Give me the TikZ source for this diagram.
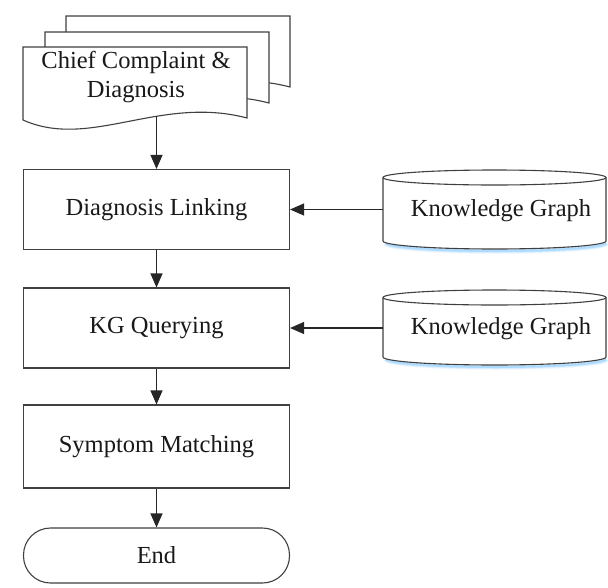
\documentclass[tikz,border=0pt]{standalone}
\usepackage{fontspec}
\setmainfont{Liberation Serif}
\newfontfamily\diagfont{Liberation Serif}
\usetikzlibrary{arrows.meta}
\begin{document}
\begin{tikzpicture}[x=1pt,y=-1pt,
  line width=1.1pt,
  lbl/.style={font=\diagfont\fontsize{24.5}{29}\selectfont, text=black!90},
  proc/.style={draw=black!75, fill=white, minimum width=266pt, inner sep=0pt, lbl},
  term/.style={draw=black!75, fill=white, rounded corners=27pt, minimum width=266pt, minimum height=55pt, inner sep=0pt, lbl},
  sheet/.style={draw=black!75, fill=white},
  cyl/.style={draw=black!75, fill=white},
  flow/.style={draw=black!85, -{Triangle[length=14pt,width=12pt]}}
]
\useasboundingbox (0,0) rectangle (608,587);

% stacked document sheets, back to front
\foreach \dx/\dy in {43/-31, 22/-15, 0/0}{
  \path[sheet] (23+\dx,47+\dy) -- (247+\dx,47+\dy) -- (247+\dx,118+\dy)
    .. controls (160+\dx,95+\dy) and (90+\dx,150+\dy) .. (23+\dx,120+\dy) -- cycle;
}
\node[lbl, align=center] (doc) at (136,77.5) {Chief Complaint \&\\Diagnosis};
\coordinate (docout) at (156.5,116.3);

% process boxes
\node[proc, minimum height=80pt] (link)  at (156.5,209.5) {Diagnosis Linking};
\node[proc, minimum height=80pt] (query) at (156.5,328)   {KG Querying};
\node[proc, minimum height=83pt] (match) at (156.5,446.5) {Symptom Matching};
\node[term] (end) at (156.5,555.5) {End};

% knowledge graph cylinders
\foreach \n/\yt/\yb/\ym in {kg1/177.5/241/209.5, kg2/297.5/357/328}{
  % soft shadow under the bottom rim
  \foreach \k/\o in {6/0.08, 4.5/0.12, 3/0.18, 2/0.28}{
    \draw[line width=\k pt, draw=blue!45!cyan!60, opacity=\o]
      (386,\yb+2) arc[start angle=180, end angle=0, x radius=110, y radius=8];
  }
  \path[cyl] (383,\yt) -- (383,\yb) arc[start angle=180, end angle=0, x radius=111.5, y radius=8]
     -- (606,\yt) arc[start angle=0, end angle=-180, x radius=111.5, y radius=7.5] -- cycle;
  \draw[draw=black!75] (383,\yt) arc[start angle=180, end angle=0, x radius=111.5, y radius=7.5];
  \node[lbl, inner sep=0pt] (\n) at (501,\ym+1) {Knowledge Graph};
  \coordinate (\n-in) at (383,\ym);
}

% connectors
\draw[flow] (docout) -- (link.north);
\draw[flow] (link.south) -- (query.north);
\draw[flow] (query.south) -- (match.north);
\draw[flow] (match.south) -- (end.north);
\draw[flow] (kg1-in) -- (link.east);
\draw[flow] (kg2-in) -- (query.east);
\end{tikzpicture}
\end{document}
